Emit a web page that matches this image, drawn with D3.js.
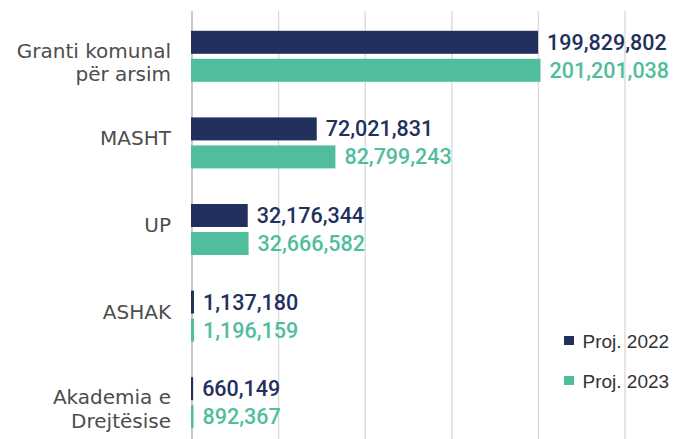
<!DOCTYPE html>
<html>
<head>
<meta charset="utf-8">
<script src="https://cdn.jsdelivr.net/npm/d3@7/dist/d3.min.js"></script>
<style>
  html, body { margin: 0; padding: 0; background: #fff; }
  svg { display: block; }
</style>
</head>
<body>
<svg id="chart" width="696" height="439"></svg>
<script>
const categories = [
  ["Granti komunal", "për arsim"],
  ["MASHT"],
  ["UP"],
  ["ASHAK"],
  ["Akademia e", "Drejtësise"]
];
const seriesNames = ["Proj. 2022", "Proj. 2023"];
const proj2022 = [199829802, 72021831, 32176344, 1137180, 660149];
const proj2023 = [201201038, 82799243, 32666582, 1196159, 892367];
const gridTicks = [0, 50000000, 100000000, 150000000, 200000000, 250000000];
const colors = ["#22305e", "#50bd9c"];

const svg = d3.select("#chart");
const catKeys = categories.map(c => c.join(" "));
const series = [proj2022, proj2023];

const x = d3.scaleLinear().domain([0, 250000000]).range([192, 625]);
const y0 = d3.scaleBand().domain(catKeys).range([13, 446])
  .paddingInner(0.411).paddingOuter(0.2055);
const y1 = d3.scaleBand().domain(seriesNames).range([0, y0.bandwidth()])
  .paddingInner(0.1786).paddingOuter(0);

// gridlines
svg.append("g").selectAll("line").data(gridTicks).join("line")
  .attr("x1", d => x(d)).attr("x2", d => x(d))
  .attr("y1", 11).attr("y2", 439)
  .attr("stroke", d => d === 0 ? "#c9c9c9" : "#d9d9d9")
  .attr("stroke-width", d => d === 0 ? 2 : 1.3);

const fmt = d3.format(",");

// bars
const groups = svg.append("g").selectAll("g").data(catKeys).join("g")
  .attr("transform", d => `translate(0,${y0(d)})`);

groups.each(function(cat, i) {
  const g = d3.select(this);
  seriesNames.forEach((s, j) => {
    const v = series[j][i];
    g.append("rect")
      .attr("x", x(0) - 1)
      .attr("y", y1(s))
      .attr("width", Math.max(1.2, x(v) - x(0) + 1))
      .attr("height", y1.bandwidth())
      .attr("fill", colors[j]);
    g.append("text")
      .attr("x", x(v) + 9)
      .attr("y", y1(s) + y1.bandwidth() / 2 + 7.5)
      .attr("fill", colors[j])
      .attr("font-family", "Roboto, sans-serif")
      .attr("font-weight", 500)
      .attr("font-size", "21.5px")
      .text(fmt(v));
  });
});

// category labels
const labelG = svg.append("g");
categories.forEach((lines, i) => {
  const c = y0(catKeys[i]) + y0.bandwidth() / 2;
  const start = lines.length === 1 ? c + 2.5 : c + 1.5;
  lines.forEach((ln, k) => {
    labelG.append("text")
      .attr("x", 171)
      .attr("y", start + k * 23.4)
      .attr("text-anchor", "end")
      .attr("fill", "#4d4d4d")
      .attr("font-family", "'DejaVu Sans', sans-serif")
      .attr("font-size", "20px")
      .text(ln);
  });
});

// legend
const legend = svg.append("g").selectAll("g").data(seriesNames).join("g")
  .attr("transform", (d, i) => `translate(564,${336 + i * 40})`);
legend.append("rect").attr("width", 10).attr("height", 9)
  .attr("fill", (d, i) => colors[i]);
legend.append("text").attr("x", 18.5).attr("y", 12.3)
  .attr("fill", "#333")
  .attr("font-family", "'Liberation Sans', Arial, sans-serif")
  .attr("font-size", "19px")
  .text(d => d);
</script>
</body>
</html>
